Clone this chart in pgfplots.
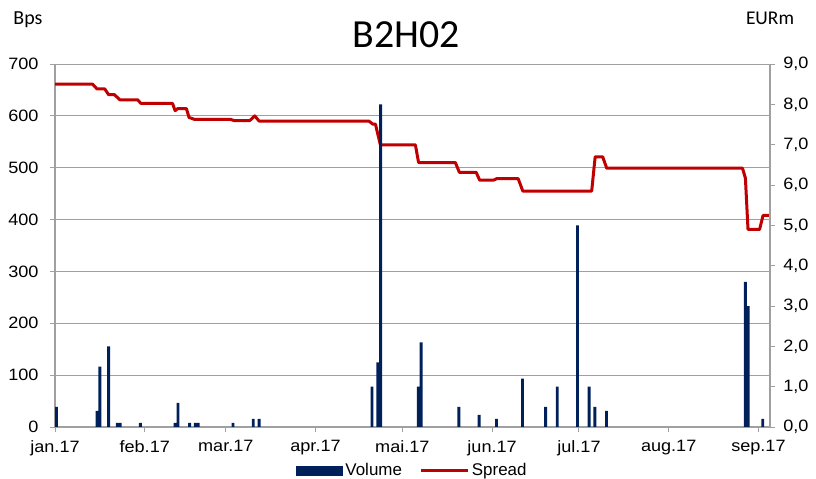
\documentclass[border=0pt]{standalone}
\usepackage{pgfplots}
\pgfplotsset{compat=1.18}
\usepackage{fontspec}
\setmainfont{Liberation Sans}
\newfontfamily\calfont{Carlito}
\definecolor{navy}{RGB}{0,32,90}
\definecolor{spred}{RGB}{192,0,0}
\definecolor{gridgray}{RGB}{160,160,160}
\begin{document}
\begin{tikzpicture}
\path[use as bounding box] (0bp,0bp) rectangle (816bp,479bp);
\node[font=\calfont\fontsize{40}{44}\selectfont, anchor=base] at (406bp,431bp) {B2H02};
\node[font=\calfont\fontsize{20}{22}\selectfont, anchor=base] at (28bp,454bp) {Bps};
\node[font=\calfont\fontsize{19.5}{22}\selectfont, anchor=base] at (770bp,454bp) {EURm};
\begin{axis}[
  at={(55bp,52bp)}, anchor=south west, scale only axis,
  width=715bp, height=363bp,
  xmin=0, xmax=247, ymin=0, ymax=700,
  ytick={0,100,...,700},
  ymajorgrids, grid style={gridgray, line width=1bp},
  axis x line*=bottom, axis y line*=left,
  axis line style={gridgray, line width=1.5bp},
  xtick={0,31,59,90,120,151,181,212,243},
  xticklabels={jan.17,feb.17,mar.17,apr.17,mai.17,jun.17,jul.17,aug.17,sep.17},
  tick align=outside, major tick length=5bp,
  tick style={gridgray, line width=1bp},
  tick label style={font=\fontsize{16.5}{20}\selectfont, xscale=1.1},
  xticklabel style={yshift=-5bp},
  yticklabel style={xshift=-7bp},
  /pgf/number format/assume math mode=true,
]
\addplot[spred, line width=3bp, line join=round] coordinates {
(0,661) (13,661) (14.5,652) (17.2,652) (18.5,641) (20.5,641) (22.4,631) (28.5,631)
(29.7,624) (40.6,624) (41.5,610) (42.4,614) (45.4,614) (46.3,597) (48.3,593) (60.7,593)
(61.8,591) (67.3,591) (69,600) (70.5,590) (108.4,590) (109.8,584) (110.7,584) (112.4,544)
(124.5,544) (125.6,510) (138.3,510) (139.7,491) (145.5,491) (146.7,476) (151.5,476)
(152.6,479) (160,479) (161.6,455) (185.4,455) (186.6,521) (189.2,521) (190.6,499)
(237.5,499) (238.5,480) (239.4,381) (243.4,381) (244.6,408) (246.7,408)
};
\end{axis}
\begin{axis}[
  at={(55bp,52bp)}, anchor=south west, scale only axis,
  width=715bp, height=363bp,
  xmin=0, xmax=247, ymin=0, ymax=9,
  ytick={0,1,...,9},
  axis y line*=right, axis x line=none,
  axis line style={gridgray, line width=1.5bp},
  tick align=outside, major tick length=5bp,
  tick style={gridgray, line width=1bp},
  tick label style={font=\fontsize{16.5}{20}\selectfont, xscale=1.1},
  yticklabel style={xshift=4bp},
  /pgf/number format/assume math mode=true,
  yticklabel={\pgfmathprintnumber[fixed, fixed zerofill, precision=1, use comma]{\tick}},
  legend style={at={(0.5,-0.12)}, anchor=center, draw=none, fill=none,
    legend columns=2, font=\fontsize{17}{20}\selectfont,
    /tikz/every even column/.append style={column sep=16bp}},
]
\addplot[ybar, bar width=1, fill=navy, draw=none,
  legend image code/.code={\fill[navy] (0bp,-5bp) rectangle (47bp,5bp);}] coordinates {
(0.5,0.5) (14.5,0.4) (15.5,1.5) (18.5,2.0) (21.5,0.1) (22.5,0.1) (29.5,0.1)
(41.5,0.1) (42.5,0.6) (46.5,0.1) (48.5,0.1) (49.5,0.1) (61.5,0.1) (68.5,0.2) (70.5,0.2)
(109.5,1.0) (111.5,1.6) (112.5,8.0) (125.5,1.0) (126.5,2.1) (139.5,0.5) (146.5,0.3)
(152.5,0.2) (161.5,1.2) (169.5,0.5) (173.5,1.0) (180.5,5.0) (184.5,1.0) (186.5,0.5)
(190.5,0.4) (238.5,3.6) (239.5,3.0) (244.5,0.2)
};
\addlegendentry{Volume}
\addlegendimage{legend image code/.code={\draw[spred, line width=3bp] (0bp,0bp) -- (47bp,0bp);}}
\addlegendentry{Spread}
\end{axis}
\end{tikzpicture}
\end{document}
